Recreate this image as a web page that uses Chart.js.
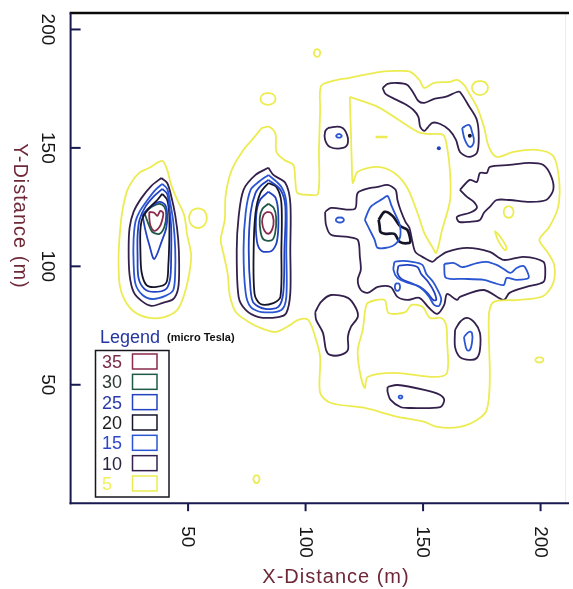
<!DOCTYPE html>
<html>
<head>
<meta charset="utf-8">
<title>Magnetic field survey</title>
<script src="https://cdn.jsdelivr.net/npm/chart.js@4.4.1/dist/chart.umd.min.js"></script>
<style>
  html, body { margin: 0; padding: 0; background: #ffffff; }
  #wrap { width: 573px; height: 589px; }
  canvas { display: block; }
</style>
</head>
<body>
<div id="wrap"><canvas id="survey" width="573" height="589"></canvas></div>
<script>
// Contour levels in micro Tesla, pen colours and legend text colours
const levels = [35, 30, 25, 20, 15, 10, 5];
const levelColors = { 35: '#8a2a4c', 30: '#1f5a48', 25: '#2242c2', 20: '#15152a', 15: '#2a56d2', 10: '#33204c', 5: '#ecec52' };
const legendTextColors = { 35: '#7a2c48', 30: '#2c3c34', 25: '#2a38a8', 20: '#1c1c1c', 15: '#2c48c8', 10: '#2a2440', 5: '#f0f060' };

// Axis ticks (metres)
const xTicks = [50, 100, 150, 200];
const yTicks = [50, 100, 150, 200];
const xRange = [0, 212.1];
const yRange = [0, 206.95];

// ---- western anomaly (x, y in metres) ----
const west5 = [[29.7,139.9],[33.5,141.6],[39.0,144.5],[41.1,140.7],[42.8,134.4],[45.4,128.0],[48.3,121.7],[49.6,113.3],[51.3,104.8],[50.4,96.4],[48.3,87.9],[45.4,81.6],[39.9,78.6],[33.5,78.2],[27.2,80.7],[23.0,85.8],[20.9,92.1],[20.4,102.7],[20.9,113.3],[22.1,123.8],[24.2,132.3],[27.2,137.3]];
const westSpot5 = [[54.2,124.6],[56.9,123.4],[58.0,120.4],[56.9,117.4],[54.2,116.2],[51.5,117.4],[50.4,120.4],[51.5,123.4]];
const west10 = [[38.6,137.3],[41.1,135.2],[42.8,129.7],[44.5,121.7],[45.8,111.2],[46.2,100.6],[45.8,90.9],[43.7,86.2],[39.0,84.5],[34.4,83.3],[30.2,85.4],[26.8,89.2],[25.1,96.4],[24.7,106.9],[25.1,116.2],[26.8,123.0],[30.2,128.9],[34.4,134.0]];
const west15 = [[39.0,134.8],[41.1,132.7],[42.4,126.8],[43.7,118.8],[44.5,107.8],[44.5,97.6],[43.7,90.0],[40.3,87.5],[34.8,86.2],[30.6,87.9],[27.6,92.6],[26.8,101.9],[26.8,111.2],[27.6,118.8],[29.3,123.0],[32.7,128.0],[36.1,132.3]];
const west25 = [[39.0,132.7],[41.1,130.6],[42.0,125.1],[42.8,116.2],[42.8,104.8],[42.4,95.1],[40.7,90.5],[35.6,89.2],[31.4,90.5],[28.9,95.1],[28.5,104.4],[28.5,112.8],[29.3,119.6],[31.8,125.1],[35.6,129.7]];
const west20 = [[39.0,130.6],[41.1,128.0],[42.0,121.7],[42.0,111.2],[41.6,100.6],[40.7,93.0],[36.5,91.3],[32.3,92.1],[30.2,97.6],[29.7,106.9],[29.7,115.4],[30.6,120.4],[33.5,124.7],[36.9,128.0]];
const westCore25 = [[30.6,121.7],[33.5,124.7],[37.8,127.2],[40.3,125.9],[41.1,121.7],[40.7,116.2],[39.0,111.2],[35.6,103.1],[33.5,109.0],[31.8,115.4]];
const west30 = [[31.4,122.6],[34.4,125.1],[37.8,126.4],[39.9,125.1],[40.7,121.7],[39.9,116.6],[37.8,113.7],[34.8,114.5],[33.1,117.9]];
const west35 = [[33.5,123.0],[35.6,122.6],[36.9,121.3],[38.2,123.4],[39.4,122.6],[39.0,119.6],[37.8,116.6],[35.6,115.0],[34.0,117.1],[33.5,120.4]];

// ---- central anomaly ----
const mid10 = [[84.2,141.6],[86.3,138.6],[91.4,135.2],[93.5,126.8],[93.5,106.9],[93.5,88.8],[91.8,80.3],[88.4,78.6],[80.0,78.6],[74.5,81.6],[71.5,87.1],[70.7,106.9],[71.5,120.9],[73.6,132.3],[78.7,138.6]];
const mid15 = [[84.2,138.6],[89.7,133.5],[91.8,126.8],[91.8,106.9],[91.8,87.1],[89.7,81.6],[81.3,80.7],[76.6,82.9],[74.5,88.8],[73.6,106.9],[74.5,122.6],[76.6,132.3],[80.0,135.6]];
const mid25 = [[84.2,136.5],[89.3,132.3],[91.4,125.1],[91.0,106.9],[90.5,88.8],[88.4,82.9],[82.9,82.0],[77.9,84.5],[76.6,90.0],[75.8,106.9],[76.6,122.6],[78.7,131.0],[81.3,134.4]];
const mid20 = [[84.2,135.2],[87.6,133.5],[89.7,126.8],[89.7,106.9],[89.3,87.1],[86.3,84.5],[80.8,84.1],[78.3,88.3],[77.9,106.9],[78.7,122.6],[80.8,131.0]];
const midCore25 = [[84.2,131.5],[87.2,129.0],[88.4,121.7],[87.8,110.5],[85.5,106.5],[81.3,106.5],[79.3,110.5],[79.0,121.7],[80.6,128.0]];
const mid30 = [[84.2,126.4],[86.5,124.6],[87.5,120.4],[87.0,113.8],[85.6,111.0],[82.3,111.2],[80.9,114.3],[80.5,120.4],[81.6,124.2]];
const mid35 = [[83.6,123.0],[85.5,122.4],[86.4,119.4],[85.9,115.9],[84.4,113.8],[82.5,115.0],[81.5,118.6],[82.1,121.6]];

// ---- eastern field ----
const east5 = [[81.3,158.4],[84.6,158.9],[87.2,155.9],[87.6,148.3],[91.0,144.9],[94.8,142.8],[95.6,136.5],[96.5,131.0],[101.1,130.2],[105.3,130.6],[105.7,149.2],[106.2,166.0],[106.6,176.2],[111.7,178.3],[118.8,179.6],[131.9,182.1],[139.1,182.5],[144.6,182.1],[148.4,178.7],[150.5,175.3],[154.7,177.5],[161.5,177.9],[164.4,178.7],[167.4,176.6],[169.5,173.2],[172.9,167.3],[175.9,158.9],[178.0,150.4],[181.3,146.2],[188.5,148.3],[198.2,149.2],[205.4,146.6],[207.9,136.5],[207.5,125.1],[203.7,116.6],[199.5,111.2],[202.9,106.1],[205.8,100.6],[205.4,93.0],[201.2,87.5],[191.1,85.8],[180.1,85.0],[178.0,79.5],[178.4,52.0],[177.1,39.4],[172.9,35.1],[165.7,32.2],[156.0,32.2],[150.5,34.3],[137.8,36.8],[125.2,40.2],[110.8,42.3],[106.2,46.5],[106.2,61.7],[104.1,70.2],[101.1,77.4],[96.9,77.4],[92.7,74.8],[87.2,72.3],[80.8,74.0],[75.8,76.5],[70.3,80.7],[67.7,87.9],[66.9,96.4],[65.2,104.8],[63.9,111.2],[65.6,119.6],[66.0,130.2],[68.6,140.7],[73.6,149.2],[77.9,154.2]];
const eastLowNorth5 = [[118.8,171.5],[130.7,167.3],[147.6,156.8],[151.8,155.9],[158.5,155.5],[160.2,150.4],[161.5,139.4],[161.5,128.0],[158.1,115.4],[155.6,105.7],[153.9,108.2],[150.5,114.1],[147.6,122.6],[143.3,133.1],[137.8,139.4],[130.7,142.0],[122.2,139.9],[120.1,135.2],[119.7,142.0],[119.3,156.3]];
const eastLowSouth5 = [[125.2,80.7],[126.4,84.5],[133.6,85.8],[135.3,80.3],[142.5,80.7],[145.0,83.7],[149.7,82.9],[153.0,78.2],[157.7,78.2],[159.8,75.3],[160.2,68.9],[160.2,55.0],[154.7,53.3],[137.8,55.0],[126.4,53.3],[125.2,48.6],[123.1,55.4],[122.2,64.7],[124.3,73.1]];
const eastDash5 = [[129.8,154.6],[134.9,154.6]];
const spotA5 = [[104.9,191.8],[105.8,191.3],[106.2,190.1],[105.8,188.9],[104.9,188.4],[104.0,188.9],[103.6,190.1],[104.0,191.3]];
const spotB5 = [[174.2,178.3],[176.6,177.5],[177.6,175.3],[176.6,173.2],[174.2,172.3],[171.8,173.2],[170.8,175.3],[171.8,177.5]];
const spotC5 = [[84.0,173.2],[86.3,172.5],[87.2,170.7],[86.3,168.9],[84.0,168.2],[81.7,168.9],[80.8,170.7],[81.7,172.5]];
const spotD5 = [[79.1,11.9],[80.0,11.4],[80.4,10.2],[80.0,9.0],[79.1,8.5],[78.2,9.0],[77.8,10.2],[78.2,11.4]];
const spotE5 = [[199.5,61.6],[200.7,61.3],[201.2,60.5],[200.7,59.7],[199.5,59.4],[198.3,59.7],[197.8,60.5],[198.3,61.3]];
const spotF5 = [[186.4,125.5],[187.9,124.7],[188.5,123.0],[187.9,121.2],[186.4,120.5],[184.9,121.2],[184.3,123.0],[184.9,124.7]];
const sliver5 = [[180.5,115.0],[182.6,112.8],[185.6,107.8],[184.7,106.9],[181.8,111.2]];

const east10 = [[108.3,123.0],[110.8,124.7],[120.9,124.2],[122.2,131.0],[127.7,133.1],[130.7,133.5],[134.9,134.4],[138.3,132.3],[139.1,128.0],[140.4,123.8],[142.5,118.8],[144.2,116.2],[145.4,110.7],[146.7,106.1],[149.7,104.0],[153.9,101.9],[156.0,103.5],[160.2,106.1],[168.7,107.8],[178.4,106.1],[184.3,102.7],[192.7,104.0],[201.2,101.9],[202.0,97.2],[201.2,93.4],[194.0,91.3],[186.8,88.8],[184.3,85.8],[175.9,90.0],[165.7,87.1],[164.4,85.8],[160.2,88.3],[159.0,83.7],[156.0,79.9],[152.6,82.4],[148.4,86.7],[143.3,85.8],[139.1,87.1],[136.2,91.3],[130.7,91.3],[126.4,88.8],[123.5,90.0],[122.2,94.3],[123.5,98.5],[123.1,104.0],[122.2,111.2],[118.0,112.4],[110.8,113.3],[108.7,117.5]];
const centre15 = [[125.2,119.6],[127.7,125.1],[132.8,128.5],[134.9,129.7],[136.6,125.5],[138.3,121.7],[140.1,117.5],[140.1,112.0],[137.0,108.6],[130.7,107.8],[129.4,111.2],[127.3,115.4]];
const centre20 = [[131.1,119.6],[133.6,123.0],[137.0,121.3],[140.1,117.1],[143.3,115.4],[144.6,111.2],[144.2,109.9],[140.1,110.3],[137.8,113.7],[134.0,113.7],[131.9,114.5],[131.5,117.1]];
const centreSpot15 = [[114.6,120.7],[115.8,120.4],[116.3,119.6],[115.8,118.8],[114.6,118.5],[113.4,118.8],[112.9,119.6],[113.4,120.4]];
const band15 = [[137.8,101.9],[141.2,102.3],[145.4,101.9],[149.7,100.6],[151.4,96.8],[154.3,93.4],[156.4,89.6],[157.7,86.2],[156.8,83.3],[154.7,83.7],[152.6,87.1],[150.1,90.0],[146.7,92.1],[142.5,93.4],[139.1,95.1],[137.4,98.5]];
const band25 = [[139.5,100.2],[143.3,100.6],[147.6,99.7],[149.2,96.8],[152.2,93.4],[154.7,89.2],[155.6,85.8],[154.3,85.8],[151.8,88.8],[148.8,91.3],[144.6,93.0],[140.8,94.7],[139.1,97.2]];
const bandSpot15 = [[139.1,93.0],[139.9,92.5],[140.2,91.3],[139.9,90.1],[139.1,89.6],[138.3,90.1],[138.0,91.3],[138.3,92.5]];
const eastBlob15 = [[159.0,101.0],[163.2,101.4],[166.6,99.7],[172.9,101.4],[177.1,101.9],[181.3,100.6],[184.3,98.9],[187.2,97.2],[189.8,99.3],[192.7,100.2],[194.0,98.5],[194.9,95.1],[189.8,94.3],[185.6,95.1],[184.3,92.1],[180.1,93.0],[175.9,94.3],[167.4,94.7],[161.5,94.7],[159.4,95.5]];

const northwest10 = [[109.5,158.4],[114.6,158.9],[117.1,156.8],[118.0,152.1],[115.9,150.0],[110.4,150.4],[108.3,153.4],[108.3,156.8]];
const northwest15 = [[114.2,155.9],[115.0,155.6],[115.4,155.1],[115.0,154.5],[114.2,154.3],[113.4,154.5],[113.0,155.1],[113.4,155.6]];
const north10 = [[132.8,175.3],[134.9,177.0],[139.1,177.4],[143.3,176.6],[145.9,173.2],[148.0,169.8],[150.5,169.0],[154.7,170.7],[159.4,171.5],[164.4,173.6],[165.7,173.6],[169.5,167.7],[172.9,161.8],[173.7,154.2],[172.9,147.9],[169.5,146.2],[165.7,148.3],[164.0,153.4],[161.1,157.6],[157.3,160.1],[153.9,160.6],[151.8,158.4],[150.5,157.2],[148.8,158.9],[148.0,163.1],[145.9,166.0],[142.1,168.6],[137.8,170.7],[134.0,172.8]];
const north15 = [[166.6,158.4],[169.5,159.7],[170.8,156.8],[171.6,152.5],[169.9,150.4],[167.8,153.4]];
const northeast10 = [[165.7,132.3],[169.9,136.5],[172.9,135.6],[174.2,139.4],[177.1,139.4],[178.4,142.0],[186.8,142.8],[195.3,143.7],[201.2,142.8],[204.6,137.8],[205.4,132.3],[202.4,128.0],[195.3,127.2],[186.8,128.0],[181.3,128.0],[178.4,125.1],[175.9,122.6],[174.2,119.6],[169.9,118.8],[165.3,118.8],[164.4,120.9],[169.9,122.6],[172.9,124.7],[171.6,127.2],[168.7,129.3]];
const southwest10 = [[104.1,80.7],[106.6,85.0],[110.8,87.9],[118.0,86.7],[121.4,82.4],[122.2,78.6],[119.3,74.4],[118.0,70.2],[118.0,64.7],[115.0,62.6],[110.4,62.6],[108.7,64.7],[107.4,71.9],[104.5,77.4]];
const southeast10 = [[163.6,73.1],[165.7,76.5],[168.7,78.2],[172.0,76.1],[174.2,71.9],[174.2,64.7],[172.9,61.3],[169.9,60.5],[165.7,61.7],[163.6,66.0]];
const southeast15 = [[167.4,70.2],[169.5,72.3],[170.8,71.9],[170.8,67.7],[169.9,64.7],[168.7,64.7],[167.8,67.7]];
const south10 = [[134.9,49.1],[139.1,49.9],[150.5,47.8],[157.3,45.7],[159.0,43.6],[157.3,40.6],[144.6,40.2],[140.4,40.6],[136.2,43.6],[134.9,47.0]];
const south15 = [[140.4,45.5],[141.0,45.3],[141.2,44.9],[141.0,44.4],[140.4,44.2],[139.8,44.4],[139.6,44.9],[139.8,45.3]];

// Single-cell peaks marked as dots: [x, y, level]
const peakDots = [[169.9, 155.1, 20], [156.7, 149.9, 25]];

// Level assignment for every traced line; `open` lines are not closed
const contours = [
  { level: 5, pts: west5 }, { level: 5, pts: westSpot5 },
  { level: 10, pts: west10 }, { level: 15, pts: west15 }, { level: 25, pts: west25 },
  { level: 20, pts: west20 }, { level: 25, pts: westCore25 }, { level: 30, pts: west30 }, { level: 35, pts: west35 },
  { level: 10, pts: mid10 }, { level: 15, pts: mid15 }, { level: 25, pts: mid25 }, { level: 20, pts: mid20 },
  { level: 25, pts: midCore25 }, { level: 30, pts: mid30 }, { level: 35, pts: mid35 },
  { level: 5, pts: east5 }, { level: 5, pts: eastLowNorth5 }, { level: 5, pts: eastLowSouth5 },
  { level: 5, pts: eastDash5, open: true, width: 2.4 },
  { level: 5, pts: spotA5 }, { level: 5, pts: spotB5 }, { level: 5, pts: spotC5 }, { level: 5, pts: spotD5 },
  { level: 5, pts: spotE5 }, { level: 5, pts: spotF5 }, { level: 5, pts: sliver5 },
  { level: 10, pts: east10 }, { level: 15, pts: centre15 }, { level: 20, pts: centre20, width: 2.7 },
  { level: 15, pts: centreSpot15 }, { level: 15, pts: band15 }, { level: 25, pts: band25 }, { level: 15, pts: bandSpot15 },
  { level: 15, pts: eastBlob15 },
  { level: 10, pts: northwest10 }, { level: 15, pts: northwest15 }, { level: 10, pts: north10 }, { level: 15, pts: north15 },
  { level: 10, pts: northeast10 }, { level: 10, pts: southwest10 }, { level: 10, pts: southeast10 }, { level: 15, pts: southeast15 },
  { level: 10, pts: south10 }, { level: 15, pts: south15 }
];

const datasets = contours.map(c => {
  const pts = c.open ? c.pts : c.pts.concat([c.pts[0]]);
  return {
    data: pts.map(([x, y]) => ({ x, y })),
    borderColor: levelColors[c.level],
    borderWidth: c.width || 1.8,
    showLine: true,
    fill: false,
    pointRadius: 0,
    pointHoverRadius: 0,
    tension: c.pts.length <= 8 ? 0.45 : 0.3
  };
});
datasets.push({
  data: peakDots.map(([x, y]) => ({ x, y })),
  showLine: false,
  pointRadius: 2,
  pointBackgroundColor: peakDots.map(d => levelColors[d[2]]),
  pointBorderWidth: 0
});

function line(ctx, x1, y1, x2, y2) {
  ctx.beginPath(); ctx.moveTo(x1, y1); ctx.lineTo(x2, y2); ctx.stroke();
}
// Text turned a quarter clockwise, reading top to bottom
function rotated(ctx, text, x, y, align) {
  ctx.save();
  ctx.translate(x, y);
  ctx.rotate(Math.PI / 2);
  ctx.textAlign = align;
  ctx.textBaseline = 'alphabetic';
  ctx.fillText(text, 0, 0);
  ctx.restore();
}

const FONT = '"Liberation Sans", Arial, Helvetica, sans-serif';

const surveyFrame = {
  id: 'surveyFrame',
  beforeDraw(chart) {
    const ctx = chart.ctx;
    ctx.save();
    ctx.fillStyle = '#ffffff';
    ctx.fillRect(0, 0, chart.width, chart.height);
    ctx.restore();
  },
  afterDraw(chart) {
    const ctx = chart.ctx;
    const a = chart.chartArea;
    const xs = chart.scales.x, ys = chart.scales.y;
    ctx.save();

    // frame and axes
    ctx.strokeStyle = '#ececec'; ctx.lineWidth = 1;
    line(ctx, a.right - 3.5, a.top, a.right - 3.5, a.bottom);
    ctx.strokeStyle = '#0b0b0b'; ctx.lineWidth = 2.4;
    line(ctx, a.left - 1, a.top, a.right, a.top);
    ctx.strokeStyle = '#17194f'; ctx.lineWidth = 2;
    line(ctx, a.left, a.top, a.left, a.bottom + 1);
    line(ctx, a.left - 1, a.bottom, a.right, a.bottom);
    xTicks.forEach(v => { const px = xs.getPixelForValue(v); line(ctx, px, a.bottom, px, a.bottom + 8); });
    yTicks.forEach(v => { const py = ys.getPixelForValue(v); line(ctx, a.left, py, a.left + 10, py); });

    // tick labels
    ctx.fillStyle = '#161616';
    ctx.font = '19px ' + FONT;
    xTicks.forEach(v => rotated(ctx, String(v), xs.getPixelForValue(v) - 6, a.bottom + 23, 'left'));
    yTicks.forEach(v => rotated(ctx, String(v), 42, ys.getPixelForValue(v), 'center'));

    // axis titles
    ctx.fillStyle = '#6e2838';
    ctx.font = '20px ' + FONT;
    if ('letterSpacing' in ctx) ctx.letterSpacing = '1px';
    ctx.textAlign = 'center';
    ctx.textBaseline = 'alphabetic';
    ctx.fillText('X-Distance (m)', 336, 583);
    rotated(ctx, 'Y-Distance (m)', 14, 216, 'center');
    if ('letterSpacing' in ctx) ctx.letterSpacing = '0px';

    // legend
    ctx.textAlign = 'left';
    ctx.fillStyle = '#2436a0';
    ctx.font = '18px ' + FONT;
    ctx.fillText('Legend', 100, 343);
    ctx.fillStyle = '#111111';
    ctx.font = 'bold 11px ' + FONT;
    ctx.fillText('(micro Tesla)', 167, 341);
    ctx.strokeStyle = '#16161e'; ctx.lineWidth = 1.5;
    ctx.strokeRect(95.5, 350.5, 73.5, 146.5);
    ctx.font = '18px ' + FONT;
    levels.forEach((lv, i) => {
      const cy = 361.5 + i * 20.33;
      ctx.fillStyle = legendTextColors[lv];
      ctx.fillText(String(lv), 102, cy + 6.5);
      ctx.strokeStyle = levelColors[lv];
      ctx.lineWidth = 1.5;
      ctx.strokeRect(132.5, cy - 7.5, 24.5, 15);
    });
    ctx.restore();
  }
};

new Chart(document.getElementById('survey'), {
  type: 'scatter',
  data: { datasets },
  options: {
    responsive: false,
    animation: false,
    events: [],
    layout: { padding: { left: 70.6, top: 13, right: 0, bottom: 85.8 } },
    scales: {
      x: { type: 'linear', display: false, min: xRange[0], max: xRange[1] },
      y: { type: 'linear', display: false, min: yRange[0], max: yRange[1] }
    },
    plugins: { legend: { display: false }, tooltip: { enabled: false } }
  },
  plugins: [surveyFrame]
});
</script>
</body>
</html>
